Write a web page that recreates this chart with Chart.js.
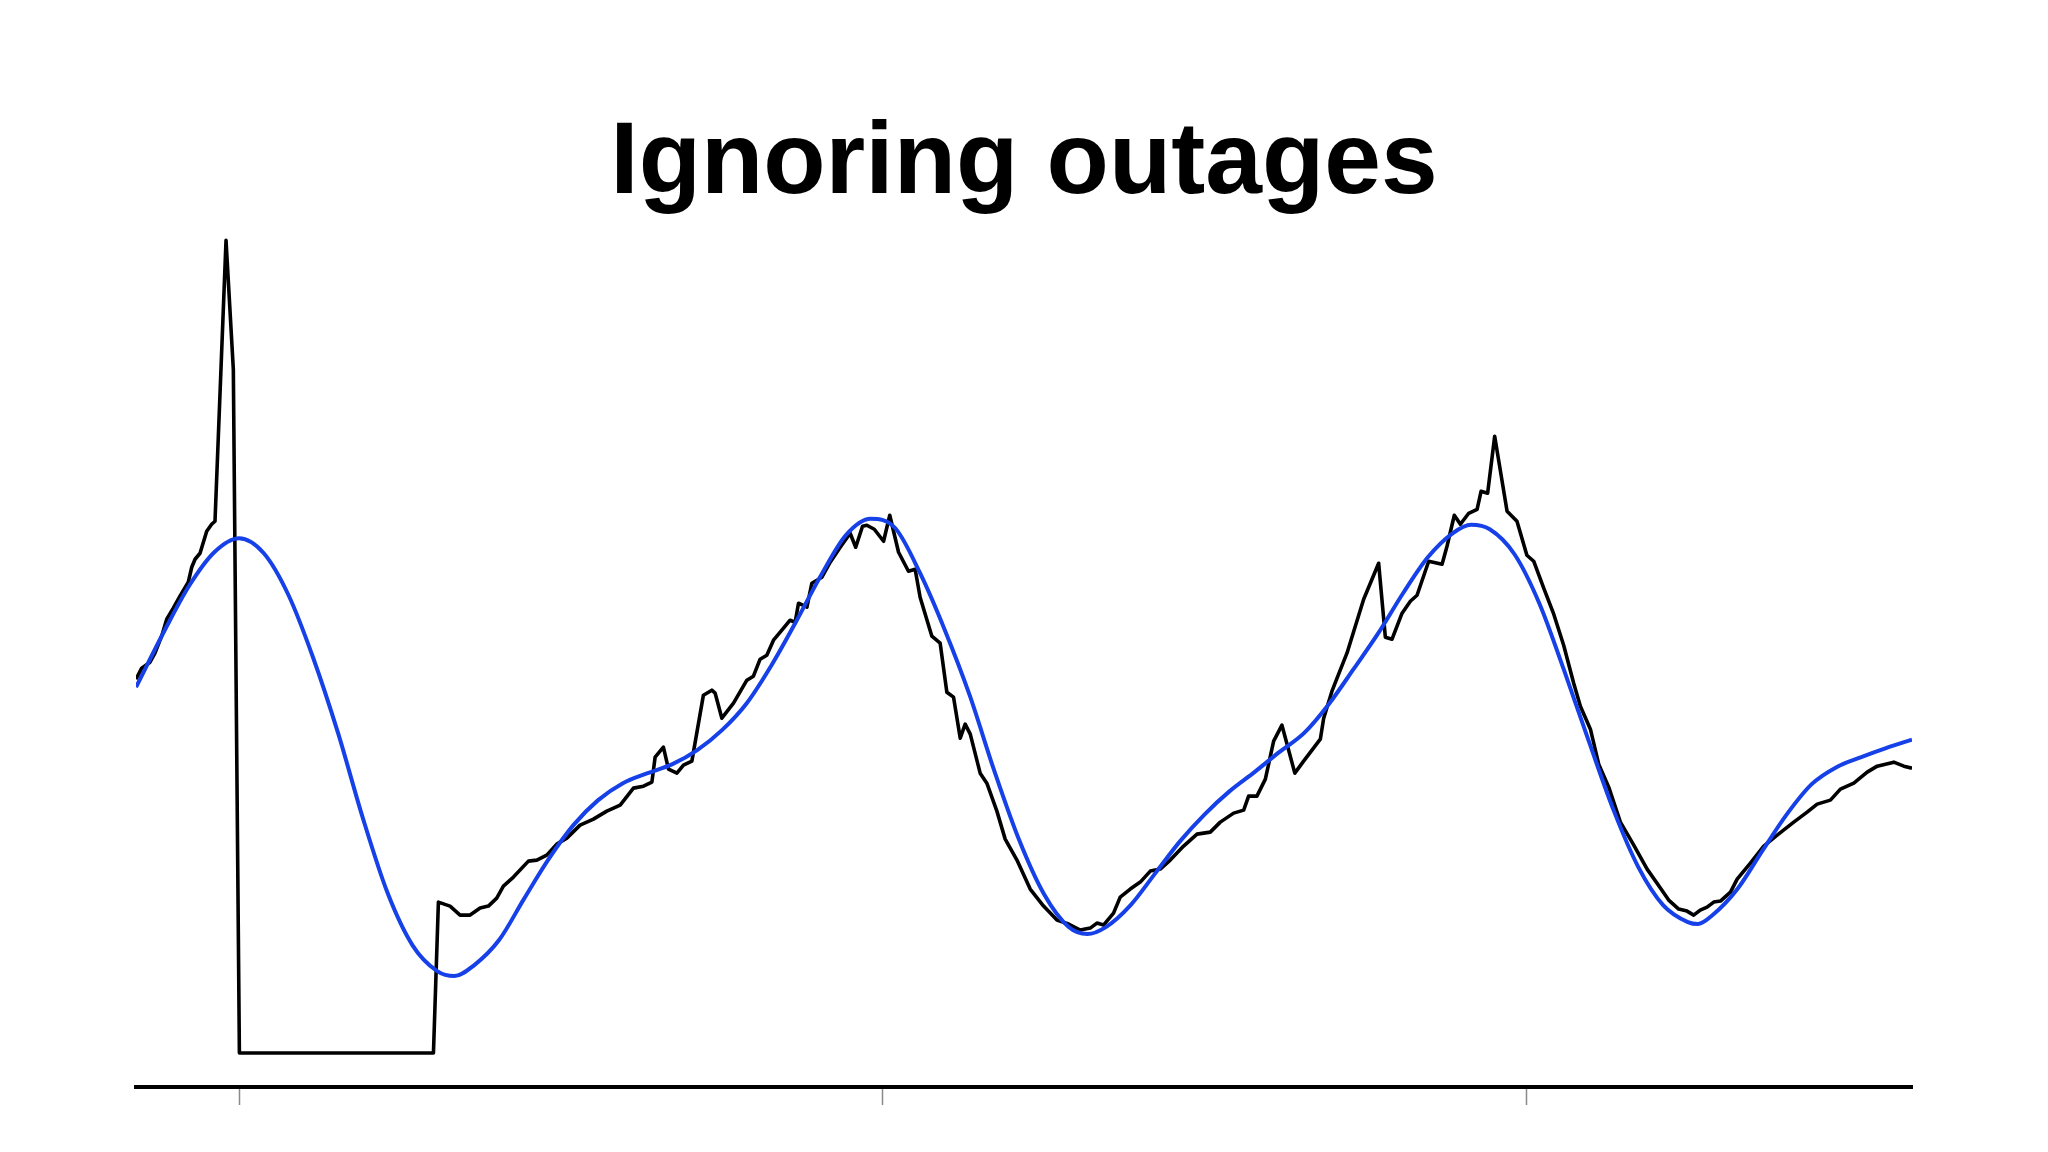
<!DOCTYPE html>
<html>
<head>
<meta charset="utf-8">
<title>Ignoring outages</title>
<script src="https://cdn.jsdelivr.net/npm/chart.js@4"></script>
<style>
    html, body { margin: 0; padding: 0; background: #fff; }
    .wrap { width: 2048px; height: 1152px; position: relative; }
</style>
</head>
<body>
<div class="wrap"><canvas id="outage-chart"></canvas></div>
<script>
// weeks from the first tick; values in arbitrary traffic units
const rawWeeks = [
    -8.32, -7.86, -7.19, -6.79, -6.25, -5.84, -5.31, -4.77, -4.10, -3.82, -3.55, -3.15, -2.88, -2.61, -2.21, -1.94,
    -1.05, -0.46, 0.03, 15.70, 16.10, 17.04, 17.85, 18.66, 19.47, 20.14, 20.81, 21.35, 22.16, 23.37, 24.05, 24.85,
    25.66, 26.47, 27.54, 28.62, 29.70, 30.78, 31.85, 32.66, 33.34, 33.60, 34.27, 34.68, 35.36, 35.89, 36.57, 37.50,
    38.18, 38.45, 38.99, 39.93, 41.01, 41.54, 42.08, 42.62, 43.16, 43.97, 44.50, 44.91, 45.18, 45.86, 46.26, 47.07,
    47.74, 48.55, 49.35, 49.80, 50.35, 50.70, 51.30, 52.05, 52.55, 53.26, 54.06, 54.60, 55.00, 55.95, 56.62, 57.16,
    57.70, 58.24, 58.64, 59.05, 59.85, 60.39, 61.20, 61.87, 62.82, 63.89, 64.97, 66.05, 66.99, 67.93, 68.74, 69.28,
    69.81, 70.62, 71.16, 71.97, 72.78, 73.59, 74.39, 75.20, 76.28, 77.36, 78.43, 79.24, 80.32, 81.13, 81.53, 82.20,
    82.88, 83.55, 84.22, 85.26, 85.97, 87.32, 87.59, 88.26, 88.67, 89.47, 90.82, 92.03, 92.57, 93.11, 93.92, 94.59,
    95.13, 96.07, 97.15, 97.55, 98.14, 98.63, 99.30, 99.98, 100.30, 100.83, 101.40, 102.40, 103.20, 104.00, 104.55, 105.36,
    106.17, 106.97, 107.78, 108.32, 109.13, 109.80, 110.61, 111.55, 112.63, 113.71, 114.78, 115.45, 116.26, 116.93, 117.47, 118.00,
    118.55, 119.09, 119.63, 120.44, 120.98, 122.05, 123.13, 124.21, 125.55, 126.63, 127.44, 128.51, 129.32, 130.40, 131.48, 132.29,
    133.63, 134.44, 135.10
];
const rawTraffic = [
    37.4, 38.5, 39.1, 40.0, 41.7, 43.4, 44.5, 45.7, 47.1, 48.6, 49.4, 50.0, 51.1, 52.2, 52.9, 53.2,
    81.3, 68.4, 0, 0, 15.1, 14.7, 13.8, 13.8, 14.5, 14.7, 15.5, 16.7, 17.6, 19.2, 19.3, 19.8,
    20.9, 21.5, 22.8, 23.4, 24.2, 24.8, 26.5, 26.7, 27.1, 29.6, 30.6, 28.4, 28.0, 28.8, 29.2, 35.8,
    36.3, 36.0, 33.5, 35.0, 37.3, 37.7, 39.4, 39.8, 41.3, 42.5, 43.3, 43.1, 45.0, 44.6, 47.0, 47.6,
    49.1, 50.6, 52.0, 50.6, 52.7, 52.8, 52.4, 51.2, 53.8, 50.1, 48.2, 48.4, 45.6, 41.7, 41.0, 36.1,
    35.6, 31.5, 32.9, 31.9, 28.0, 27.0, 24.2, 21.4, 19.3, 16.4, 14.7, 13.3, 12.9, 12.3, 12.5, 13.0,
    12.8, 14.0, 15.6, 16.4, 17.1, 18.2, 18.4, 19.3, 20.7, 21.9, 22.1, 23.1, 24.0, 24.3, 25.7, 25.7,
    27.4, 31.2, 32.8, 28.0, 29.2, 31.4, 33.5, 36.2, 37.5, 40.0, 45.4, 49.0, 41.6, 41.4, 44.0, 45.2,
    45.8, 49.2, 48.9, 50.7, 53.8, 52.9, 54.0, 54.4, 56.2, 56.0, 61.7, 54.2, 53.2, 49.8, 49.2, 46.5,
    43.9, 40.8, 37.0, 34.7, 32.4, 28.9, 26.6, 23.1, 20.8, 18.4, 16.5, 15.3, 14.4, 14.2, 13.8, 14.3,
    14.6, 15.1, 15.2, 16.1, 17.4, 19.0, 20.7, 21.8, 23.1, 24.1, 24.9, 25.3, 26.4, 27.0, 28.1, 28.7,
    29.1, 28.7, 28.5
];

const fitWeeks = [
    -8.32, -6, -4, -2, 0, 2, 4, 6, 8, 10, 12, 14, 16, 17.4, 19, 21,
    23, 25, 27, 29, 31, 33, 35, 37, 39, 41, 43, 45, 47, 49, 51, 53,
    55, 57, 59, 61, 63, 65, 67, 68.5, 70, 72, 74, 76, 78, 80, 82, 84,
    86, 88, 90, 92, 94, 96, 98, 99.5, 101, 103, 105, 107, 109, 111, 113, 115,
    117, 117.8, 119, 121, 123, 125, 127, 129, 131, 133, 135.1
];
const fitTraffic = [
    36.6, 42.3, 46.8, 50.1, 51.5, 50.0, 45.8, 39.5, 32.0, 23.5, 16.0, 10.8, 8.2, 7.7, 8.8, 11.3,
    15.4, 19.4, 22.8, 25.3, 27.0, 28.0, 28.9, 30.3, 32.3, 35.0, 38.8, 43.2, 47.8, 51.8, 53.45, 52.5,
    48.0, 42.3, 35.8, 28.2, 21.3, 15.9, 12.6, 11.9, 12.6, 14.8, 18.0, 21.2, 23.9, 26.2, 28.1, 30.1,
    32.0, 34.9, 38.4, 42.0, 46.0, 49.6, 52.0, 52.85, 52.4, 49.9, 45.0, 38.3, 31.2, 24.3, 18.6, 14.8,
    13.1, 12.9, 13.8, 16.4, 20.2, 23.9, 26.9, 28.6, 29.6, 30.5, 31.35
];

const tickWeeks = [0, 52, 104];

const toPoints = (xs, ys) => xs.map((x, i) => ({ x: x, y: ys[i] }));

(function () {
    const canvas = document.getElementById('outage-chart');

    const data = {
        datasets: [{
            label: 'fit',
            data: toPoints(fitWeeks, fitTraffic),
            borderColor: '#1641e8',
            borderWidth: 4,
            pointRadius: 0,
            cubicInterpolationMode: 'monotone',
            fill: false,
        }, {
            label: 'traffic',
            data: toPoints(rawWeeks, rawTraffic),
            borderColor: '#000000',
            borderWidth: 3.6,
            borderJoinStyle: 'round',
            pointRadius: 0,
            tension: 0,
            fill: false,
        }]
    };

    const config = {
        type: 'line',
        data: data,
        options: {
            responsive: true,
            maintainAspectRatio: false,
            animation: false,
            layout: {
                padding: { left: 136, right: 136, top: 0, bottom: 47 }
            },
            plugins: {
                legend: { display: false },
                tooltip: { enabled: false },
                title: {
                    display: true,
                    text: 'Ignoring outages',
                    color: '#000',
                    font: { family: "'Liberation Sans', Arial, sans-serif", size: 102, weight: 'bold' },
                    padding: { top: 104, bottom: 6 }
                }
            },
            scales: {
                x: {
                    type: 'linear',
                    min: -8.32,
                    max: 135.1,
                    afterBuildTicks: (scale) => {
                        scale.ticks = tickWeeks.map(v => ({ value: v }));
                    },
                    ticks: { display: false },
                    grid: {
                        display: true,
                        drawOnChartArea: false,
                        drawTicks: true,
                        tickLength: 18,
                        tickWidth: 1.5,
                        tickColor: '#8a8a8a'
                    },
                    border: { display: true, color: '#000', width: 4 }
                },
                y: {
                    display: false,
                    min: -3.4,
                    max: 82.1
                }
            }
        }
    };

    new Chart(canvas, config);
})();
</script>
</body>
</html>
